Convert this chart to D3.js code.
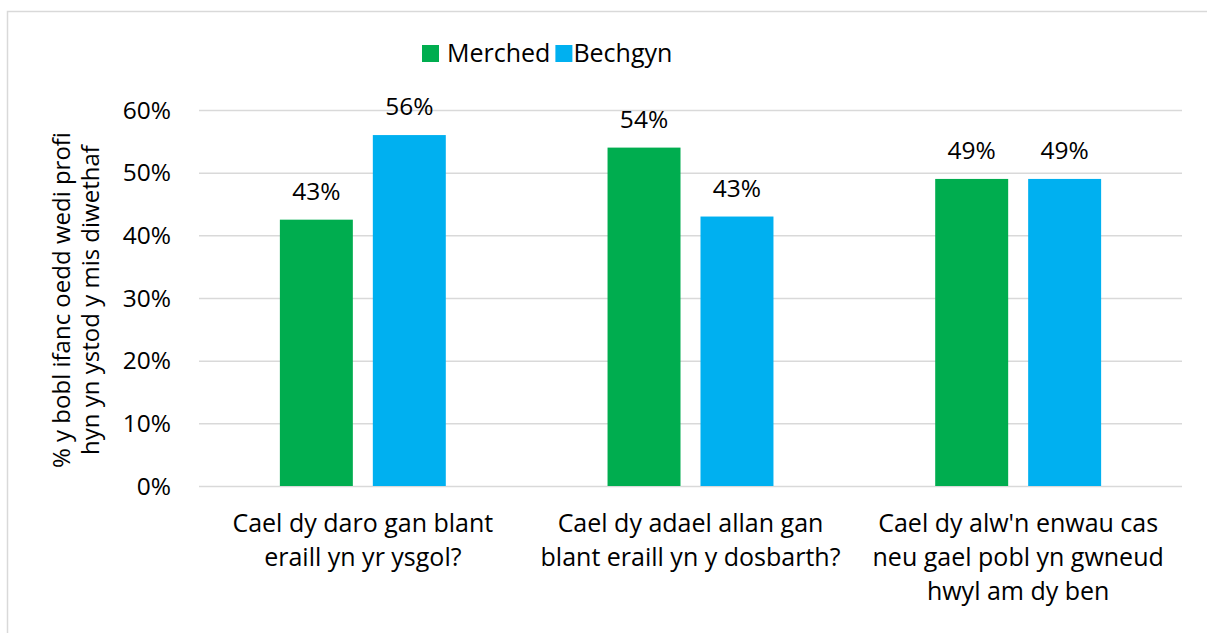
<!DOCTYPE html>
<html lang="cy">
<head>
    <meta charset="utf-8">
    <title>Profiadau pobl ifanc</title>
    <script src="https://cdnjs.cloudflare.com/ajax/libs/d3/7.8.5/d3.min.js"></script>
    <style>
        body { margin: 0; background: #fff; }
        svg { display: block; font-family: "Open Sans", "Liberation Sans", sans-serif; }
        .grid line { stroke: #d9d9d9; stroke-width: 1.5; }
        .grid path { display: none; }
        .axis text { font-size: 24.5px; fill: #000; }
    </style>
</head>
<body>
    <svg width="1207" height="633"></svg>

    <script>
        const categories = [
            ["Cael dy daro gan blant", "eraill yn yr ysgol?"],
            ["Cael dy adael allan gan", "blant eraill yn y dosbarth?"],
            ["Cael dy alw'n enwau cas", "neu gael pobl yn gwneud", "hwyl am dy ben"]
        ];
        const series = ["Merched", "Bechgyn"];
        const merched = [42.5, 54, 49];
        const bechgyn = [56, 43, 49];
        const colors = ["#00ad4f", "#00b0f0"];
        const yTicks = [0, 10, 20, 30, 40, 50, 60];
        const yTitle = ["% y bobl ifanc oedd wedi profi", "hyn yn ystod y mis diwethaf"];

        const svg = d3.select("svg");
        const plotLeft = 199, plotRight = 1182, plotTop = 110, plotBottom = 486;

        // border round the chart (runs off the right and bottom edges)
        svg.append("rect")
            .attr("x", 7.5).attr("y", 11.5)
            .attr("width", 1210).attr("height", 640)
            .attr("fill", "none")
            .attr("stroke", "#d9d9d9")
            .attr("stroke-width", 1.5);

        const x0 = d3.scaleBand()
            .domain(d3.range(categories.length))
            .range([plotLeft, plotRight]);

        const x1 = d3.scaleBand()
            .domain(series)
            .range([0, x0.bandwidth()])
            .paddingInner(0.215)
            .paddingOuter(0.87);

        const y = d3.scaleLinear()
            .domain([0, 60])
            .range([plotBottom, plotTop]);

        // gridlines
        svg.append("g")
            .attr("class", "grid")
            .attr("transform", `translate(${plotLeft},0)`)
            .call(d3.axisLeft(y).tickValues(yTicks).tickSize(-(plotRight - plotLeft)).tickFormat(""));

        // tick labels
        svg.append("g")
            .attr("class", "axis")
            .selectAll("text")
            .data(yTicks)
            .enter().append("text")
            .attr("x", 171)
            .attr("y", d => y(d))
            .attr("dy", "0.35em")
            .attr("text-anchor", "end")
            .text(d => d + "%");

        const rows = categories.map((c, i) => ({ i, values: [merched[i], bechgyn[i]] }));

        const group = svg.append("g")
            .selectAll("g")
            .data(rows)
            .enter().append("g")
            .attr("transform", d => `translate(${x0(d.i)},0)`);

        group.selectAll("rect")
            .data(d => d.values.map((v, k) => ({ key: series[k], v, k })))
            .enter().append("rect")
            .attr("x", d => x1(d.key))
            .attr("y", d => y(d.v))
            .attr("width", x1.bandwidth())
            .attr("height", d => plotBottom - y(d.v))
            .attr("fill", d => colors[d.k]);

        group.selectAll("text.val")
            .data(d => d.values.map((v, k) => ({ key: series[k], v, k })))
            .enter().append("text")
            .attr("class", "val")
            .attr("x", d => x1(d.key) + x1.bandwidth() / 2)
            .attr("y", d => y(d.v) - 20)
            .attr("text-anchor", "middle")
            .style("font-size", "24.5px")
            .text(d => Math.round(d.v) + "%");

        // category labels
        svg.append("g")
            .selectAll("text")
            .data(categories)
            .enter().append("text")
            .attr("text-anchor", "middle")
            .style("font-size", "25px")
            .attr("transform", (d, i) => `translate(${x0(i) + x0.bandwidth() / 2},532)`)
            .selectAll("tspan")
            .data(d => d)
            .enter().append("tspan")
            .attr("x", 0)
            .attr("y", (d, j) => j * 34)
            .text(d => d);

        // y title
        svg.append("text")
            .attr("transform", `translate(84,${(plotTop + plotBottom) / 2 + 2}) rotate(-90)`)
            .attr("text-anchor", "middle")
            .style("font-size", "24px")
            .selectAll("tspan")
            .data(yTitle)
            .enter().append("tspan")
            .attr("x", 0)
            .attr("y", (d, j) => (j - 0.5) * 29)
            .text(d => d);

        // legend
        const legend = svg.append("g").attr("transform", "translate(0,45)");
        let lx = 422;
        series.forEach((s, i) => {
            legend.append("rect")
                .attr("x", lx).attr("y", 0)
                .attr("width", 17).attr("height", 17)
                .attr("fill", colors[i]);
            const t = legend.append("text")
                .attr("x", lx + (i === 0 ? 25 : 18))
                .attr("y", 17)
                .style("font-size", "25px")
                .text(s);
            lx = +t.attr("x") + t.node().getComputedTextLength() + 5;
        });
    </script>
</body>
</html>
